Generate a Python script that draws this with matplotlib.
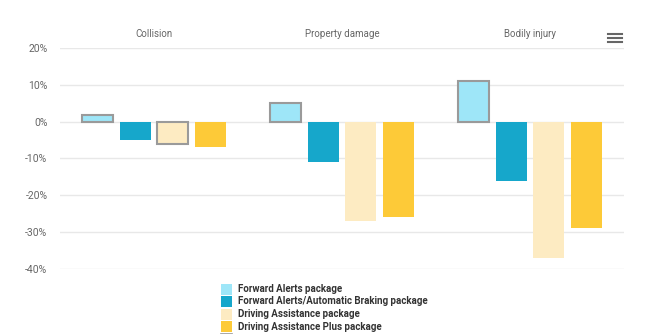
import matplotlib
matplotlib.use("Agg")
import matplotlib.pyplot as plt
from matplotlib.patches import Rectangle
from matplotlib.lines import Line2D

categories = ["Collision", "Property damage", "Bodily injury"]
series = ["Forward Alerts package",
          "Forward Alerts/Automatic Braking package",
          "Driving Assistance package",
          "Driving Assistance Plus package"]
values = [
    [1.7, 5.0, 11.0],      # Forward Alerts
    [-5.0, -11.0, -16.0],  # FA/AEB
    [-6.0, -27.0, -37.0],  # Driving Assistance
    [-7.0, -26.0, -29.0],  # Driving Assistance Plus
]
bordered = [
    [True, True, True],
    [False, False, False],
    [True, False, False],
    [False, False, False],
]
colors = ["#9ee6f8", "#16a7cb", "#fdebc2", "#fdca38"]
yticks = [20, 10, 0, -10, -20, -30, -40]

plt.rcParams['font.family'] = ['Roboto', 'DejaVu Sans']

W, H = 660, 334
fig = plt.figure(figsize=(W / 100, H / 100), dpi=100)
left, right, top, bottom = 60, 624, 48, 269
ax = fig.add_axes([left / W, 1 - bottom / H, (right - left) / W, (bottom - top) / H])
ax.set_xlim(-0.5, len(categories) - 0.5)
ax.set_ylim(-40, 20)

offsets = [-0.3, -0.1, 0.1, 0.3]
width = 0.165
for i, s in enumerate(series):
    for j in range(len(categories)):
        v = values[i][j]
        if bordered[i][j]:
            ax.bar(j + offsets[i], v, width=width, color=colors[i],
                   edgecolor="#9a9a9a", linewidth=1.5, zorder=3)
        else:
            ax.bar(j + offsets[i], v, width=width, color=colors[i],
                   linewidth=0, zorder=3)

ax.set_yticks(yticks)
ax.set_yticklabels([f"{t}%" for t in yticks], fontsize=7.5, color="#666666")
ax.tick_params(axis='y', length=0, pad=9)
ax.set_xticks([])
ax.grid(axis='y', color="#e8e8e8", linewidth=1, zorder=0)
for sp in ax.spines.values():
    sp.set_visible(False)

for j, c in enumerate(categories):
    ax.text(j, 1.0 + 14 / (bottom - top), c, transform=ax.get_xaxis_transform(),
            ha='center', va='center', fontsize=7, color="#666666")

# hamburger menu icon
for yy in [33.5, 37.8, 42]:
    fig.add_artist(Line2D([608 / W, 622 / W], [1 - yy / H, 1 - yy / H],
                          color="#666666", linewidth=1.5))

# legend
x0, y0, step, sw = 221, 283.5, 12.5, 11
for i, s in enumerate(series):
    yy = y0 + i * step
    fig.add_artist(Rectangle((x0 / W, 1 - (yy + sw) / H), sw / W, sw / H,
                             facecolor=colors[i], edgecolor='none',
                             transform=fig.transFigure))
    fig.text(238 / W, 1 - (yy + sw / 2) / H, s, fontsize=7, fontweight='bold',
             color="#333333", va='center', ha='left')
yy = y0 + 4 * step
fig.add_artist(Rectangle((x0 / W, 1 - (yy + sw) / H), sw / W, sw / H,
                         facecolor="#ffffff", edgecolor='#9a9a9a', linewidth=1.2,
                         transform=fig.transFigure))

fig.savefig("out.png", dpi=100)
